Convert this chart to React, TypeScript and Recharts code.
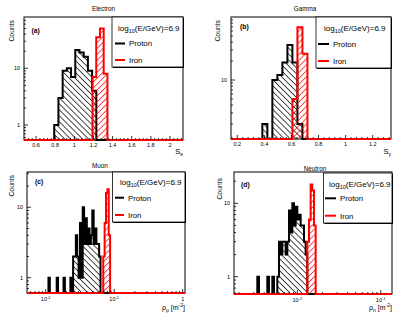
import React from "react"
import { ComposedChart, Area, XAxis, YAxis } from "recharts"

const W = 415
const H = 317
const FONT = "'Liberation Sans', Arial, Helvetica, sans-serif"
const AXW = 14 // space given to each axis inside the margins

// (a) Electron, S_e
const electronProtonStart = 0.79
const electronProtonWidth = 0.044
const electronProton = [1, 3, 9, 10, 7, 21, 19, 16, 9, 4]
const electronIronStart = 1.19
const electronIronWidth = 0.039
const electronIron = [7, 35, 50, 8]
const electronXMajor = [0.6, 0.8, 1, 1.2, 1.4, 1.6, 1.8, 2]
const electronXLabels = ["0.6", "0.8", "1", "1.2", "1.4", "1.6", "1.8", "2"]
const electronYMajor = [1, 10]
const electronYLabels = ["1", "10"]

// (b) Gamma, S_gamma (shared binning)
const gammaStart = 0.385
const gammaWidth = 0.037
const gammaProton = [2, 0, 10, 12, 19, 36, 19, 2]
const gammaIron = [0, 0, 0, 0, 0, 0, 5, 69, 26]
const gammaXMajor = [0.2, 0.4, 0.6, 0.8, 1, 1.2]
const gammaXLabels = ["0.2", "0.4", "0.6", "0.8", "1", "1.2"]
const gammaYMajor = [10]
const gammaYLabels = ["10"]

// (c) Muon, rho_mu, bins of 0.02 in log10
const muonLogStep = 0.02
const muonProtonLogStart = -1.96
const muonProton = [1, 0, 0, 0, 0, 0, 1, 0, 0, 0, 0, 1, 0, 0, 0, 0, 1, 0, 2, 2, 4, 2, 1, 6, 1, 10, 3, 7, 3, 5, 3, 4, 9, 3, 5, 3, 3, 2]
const muonIronLogStart = -1.16
const muonIron = [2, 6, 16, 18, 4]
const muonXMajor = [0.01, 0.1, 1]
const muonXLabels = ["10^-2", "10^-1", "1"]
const muonYMajor = [1, 10]
const muonYLabels = ["1", "10"]

// (d) Neutron, rho_n
const neutronLogStep = 0.02
const neutronProtonLogStart = -2.48
const neutronProton = [1, 0, 0, 0, 0, 0, 1, 0, 0, 1, 0, 0, 1, 3, 2, 3, 3, 2, 3, 8, 4, 10, 5, 9, 6, 7, 5, 5, 3, 2]
const neutronIronLogStart = -1.88
const neutronIron = [3, 6, 18, 15, 5]
const neutronXMajor = [0.01, 0.1]
const neutronXLabels = ["10^-2", "10^-1"]
const neutronYMajor = [1, 10]
const neutronYLabels = ["1", "10"]

type Pt = { x: number; y: number }
type Frame = { left: number; top: number; right: number; bottom: number }

const linEdges = (start: number, w: number, n: number) =>
  Array.from({ length: n + 1 }, (_, i) => start + i * w)
const logEdges = (start: number, step: number, n: number) =>
  Array.from({ length: n + 1 }, (_, i) => Math.pow(10, start + i * step))

function histPoints(edges: number[], counts: number[], xDom: number[], floor: number): Pt[] {
  const pts: Pt[] = [{ x: xDom[0], y: floor }]
  counts.forEach((c, i) => pts.push({ x: edges[i], y: Math.max(c, floor) }))
  pts.push({ x: edges[counts.length], y: floor })
  pts.push({ x: xDom[1], y: floor })
  return pts
}

function linTicks(from: number, step: number, to: number) {
  const out: number[] = []
  for (let k = 0; from + k * step <= to + 1e-9; k++) out.push(Math.round((from + k * step) * 10000) / 10000)
  return out
}
function logTicks(lo: number, hi: number) {
  const out: number[] = []
  for (let e = -4; e <= 3; e++)
    for (let m = 1; m < 10; m++) {
      const v = Number((m * Math.pow(10, e)).toPrecision(6))
      if (v >= lo && v < hi * 0.999) out.push(v)
    }
  return out
}

interface Cfg {
  id: string
  frame: Frame
  xScale: "linear" | "log"
  xDomain: [number, number]
  yDomain: [number, number]
  xTicks: number[]
  xMajor: number[]
  xLabels: string[]
  yTicks: number[]
  yMajor: number[]
  yLabels: string[]
  proton: Pt[]
  iron: Pt[]
}

const aX: [number, number] = [0.474, 2.136]
const aY: [number, number] = [0.544, 80]
const bX: [number, number] = [0.1535, 1.335]
const bY: [number, number] = [1.157, 100]
const cX: [number, number] = [0.00533, 1.08]
const cY: [number, number] = [0.606, 31.7]
const dX: [number, number] = [0.00174, 0.1366]
const dY: [number, number] = [0.581, 26.7]

const panels: Cfg[] = [
  {
    id: "a",
    frame: { left: 24, top: 17, right: 183, bottom: 140 },
    xScale: "linear",
    xDomain: aX,
    yDomain: aY,
    xTicks: linTicks(0.52, 0.04, 2.12),
    xMajor: electronXMajor,
    xLabels: electronXLabels,
    yTicks: logTicks(aY[0], aY[1]),
    yMajor: electronYMajor,
    yLabels: electronYLabels,
    proton: histPoints(linEdges(electronProtonStart, electronProtonWidth, electronProton.length), electronProton, aX, aY[0]),
    iron: histPoints(linEdges(electronIronStart, electronIronWidth, electronIron.length), electronIron, aX, aY[0]),
  },
  {
    id: "b",
    frame: { left: 231, top: 17, right: 391, bottom: 139 },
    xScale: "linear",
    xDomain: bX,
    yDomain: bY,
    xTicks: linTicks(0.16, 0.04, 1.32),
    xMajor: gammaXMajor,
    xLabels: gammaXLabels,
    yTicks: logTicks(bY[0], bY[1]),
    yMajor: gammaYMajor,
    yLabels: gammaYLabels,
    proton: histPoints(linEdges(gammaStart, gammaWidth, gammaProton.length), gammaProton, bX, bY[0]),
    iron: histPoints(linEdges(gammaStart, gammaWidth, gammaIron.length), gammaIron, bX, bY[0]),
  },
  {
    id: "c",
    frame: { left: 27, top: 172, right: 185, bottom: 293 },
    xScale: "log",
    xDomain: cX,
    yDomain: cY,
    xTicks: logTicks(cX[0], cX[1] * 1.01),
    xMajor: muonXMajor,
    xLabels: muonXLabels,
    yTicks: logTicks(cY[0], cY[1]),
    yMajor: muonYMajor,
    yLabels: muonYLabels,
    proton: histPoints(logEdges(muonProtonLogStart, muonLogStep, muonProton.length), muonProton, cX, cY[0]),
    iron: histPoints(logEdges(muonIronLogStart, muonLogStep, muonIron.length), muonIron, cX, cY[0]),
  },
  {
    id: "d",
    frame: { left: 234, top: 172, right: 392, bottom: 294 },
    xScale: "log",
    xDomain: dX,
    yDomain: dY,
    xTicks: logTicks(dX[0], dX[1]),
    xMajor: neutronXMajor,
    xLabels: neutronXLabels,
    yTicks: logTicks(dY[0], dY[1]),
    yMajor: neutronYMajor,
    yLabels: neutronYLabels,
    proton: histPoints(logEdges(neutronProtonLogStart, neutronLogStep, neutronProton.length), neutronProton, dX, dY[0]),
    iron: histPoints(logEdges(neutronIronLogStart, neutronLogStep, neutronIron.length), neutronIron, dX, dY[0]),
  },
]

const majorIndex = (v: number, majors: number[]) =>
  majors.findIndex((m) => Math.abs(m - v) <= 1e-6 * Math.abs(m))

function XTick(props: any) {
  const { x, y, payload, cfg } = props
  const k = majorIndex(payload.value, cfg.xMajor)
  const len = k >= 0 ? 4 : 2
  const parts = k >= 0 ? cfg.xLabels[k].split("^") : []
  return (
    <g>
      <line x1={x} x2={x} y1={y} y2={y - len} stroke="#000" strokeWidth={0.8} />
      {k >= 0 && (
        <text x={x} y={y + (cfg.xScale === "log" ? 8 : 6.5)} textAnchor="middle" fontSize={5.5} fontFamily={FONT} fill="#000">
          {parts[0]}
          {parts[1] && (
            <tspan dy={-2.5} fontSize={4}>
              {parts[1]}
            </tspan>
          )}
        </text>
      )}
    </g>
  )
}

function YTick(props: any) {
  const { x, y, payload, cfg } = props
  const k = majorIndex(payload.value, cfg.yMajor)
  const len = k >= 0 ? 4 : 2
  return (
    <g>
      <line x1={x} x2={x + len} y1={y} y2={y} stroke="#000" strokeWidth={0.8} />
      {k >= 0 && (
        <text x={x - 4} y={y + 2} textAnchor="end" fontSize={5.5} fontFamily={FONT} fill="#000">
          {cfg.yLabels[k]}
        </text>
      )}
    </g>
  )
}

function Panel({ cfg }: { cfg: Cfg }) {
  const f = cfg.frame
  return (
    <div style={{ position: "absolute", left: 0, top: 0 }}>
      <ComposedChart
        width={W}
        height={H}
        margin={{ left: f.left - AXW, top: f.top, right: W - f.right, bottom: H - f.bottom - AXW }}
      >
        <XAxis
          type="number"
          dataKey="x"
          scale={cfg.xScale}
          domain={cfg.xDomain}
          ticks={cfg.xTicks}
          interval={0}
          height={AXW}
          tickSize={0}
          tickMargin={0}
          tickLine={false}
          axisLine={false}
          tick={(p: any) => <XTick {...p} cfg={cfg} />}
        />
        <YAxis
          type="number"
          scale="log"
          domain={cfg.yDomain}
          ticks={cfg.yTicks}
          interval={0}
          width={AXW}
          tickSize={0}
          tickMargin={0}
          tickLine={false}
          axisLine={false}
          tick={(p: any) => <YTick {...p} cfg={cfg} />}
        />
        <Area
          data={cfg.proton}
          dataKey="y"
          type="stepAfter"
          baseValue={cfg.yDomain[0]}
          stroke="#000"
          strokeWidth={2}
          fill="url(#hatchProton)"
          fillOpacity={1}
          dot={false}
          activeDot={false}
          isAnimationActive={false}
        />
        <Area
          data={cfg.iron}
          dataKey="y"
          type="stepAfter"
          baseValue={cfg.yDomain[0]}
          stroke="#ff0000"
          strokeWidth={2}
          fill="url(#hatchIron)"
          fillOpacity={1}
          dot={false}
          activeDot={false}
          isAnimationActive={false}
        />
      </ComposedChart>
    </div>
  )
}

interface LegendProps {
  x: number
  y: number
  w: number
  h: number
  textX: number
  lineX: number
  lineLen: number
  rows: [number, number, number]
}

function LegendBox({ x, y, w, h, textX, lineX, lineLen, rows }: LegendProps) {
  return (
    <g fontFamily={FONT} fill="#000">
      <rect x={x + 1} y={y + 1} width={w} height={h} fill="#000" />
      <rect x={x} y={y} width={w} height={h} fill="#fff" stroke="#000" strokeWidth={0.8} />
      <text x={textX} y={rows[0] + 2.8} fontSize={8}>
        log<tspan dy={2} fontSize={5.5}>10</tspan>
        <tspan dy={-2}>(E/GeV)=6.9</tspan>
      </text>
      <line x1={lineX} x2={lineX + lineLen} y1={rows[1]} y2={rows[1]} stroke="#000" strokeWidth={2} />
      <text x={lineX + lineLen + 4} y={rows[1] + 2.8} fontSize={7.8}>
        Proton
      </text>
      <line x1={lineX} x2={lineX + lineLen} y1={rows[2]} y2={rows[2]} stroke="#ff0000" strokeWidth={2} />
      <text x={lineX + lineLen + 4} y={rows[2] + 2.8} fontSize={7.8}>
        Iron
      </text>
    </g>
  )
}

function Counts({ x, y }: { x: number; y: number }) {
  return (
    <text x={x} y={y} transform={`rotate(-90 ${x} ${y})`} textAnchor="end" fontSize={6.8} fontFamily={FONT} fill="#000">
      Counts
    </text>
  )
}

function Title({ x, y, text }: { x: number; y: number; text: string }) {
  return (
    <text x={x} y={y} textAnchor="middle" fontSize={6.3} fontFamily={FONT} fill="#000">
      {text}
    </text>
  )
}

function Tag({ x, y, text }: { x: number; y: number; text: string }) {
  return (
    <text x={x} y={y} fontSize={6.8} fontWeight="bold" fontFamily={FONT} fill="#000">
      {text}
    </text>
  )
}

export default function App() {
  return (
    <div style={{ position: "absolute", left: 0, top: 0, width: W, height: H, background: "#fff", overflow: "hidden" }}>
      <svg width={W} height={H} style={{ position: "absolute", left: 0, top: 0 }}>
        <defs>
          <pattern id="hatchProton" width={4.2} height={4.2} patternUnits="userSpaceOnUse" patternTransform="rotate(-45)">
            <line x1={2.1} y1={0} x2={2.1} y2={4.2} stroke="#000" strokeWidth={0.7} />
          </pattern>
          <pattern id="hatchIron" width={4.2} height={4.2} patternUnits="userSpaceOnUse" patternTransform="rotate(45)">
            <line x1={2.1} y1={0} x2={2.1} y2={4.2} stroke="#ff0000" strokeWidth={0.7} />
          </pattern>
        </defs>
        {panels.map((p) => (
          <rect
            key={p.id}
            x={p.frame.left}
            y={p.frame.top}
            width={p.frame.right - p.frame.left}
            height={p.frame.bottom - p.frame.top}
            fill="none"
            stroke="#000"
            strokeWidth={1}
          />
        ))}
      </svg>
      {panels.map((p) => (
        <Panel key={p.id} cfg={p} />
      ))}
      <svg width={W} height={H} style={{ position: "absolute", left: 0, top: 0 }}>
        <Title x={103.5} y={11.2} text="Electron" />
        <Title x={305} y={11.2} text="Gamma" />
        <Title x={100} y={168} text="Muon" />
        <Title x={315} y={171} text="Neutron" />
        <Counts x={14} y={20} />
        <Counts x={219.5} y={20} />
        <Counts x={13.5} y={175} />
        <Counts x={221.5} y={178} />
        <Tag x={31.5} y={32.5} text="(a)" />
        <Tag x={240} y={29} text="(b)" />
        <Tag x={35} y={184} text="(c)" />
        <Tag x={241} y={186.5} text="(d)" />
        <LegendBox x={112} y={17} w={71} h={50} textX={118} lineX={115} lineLen={10} rows={[28.5, 43.5, 60]} />
        <LegendBox x={316} y={17} w={75} h={51} textX={324} lineX={318} lineLen={11} rows={[28.5, 44, 61]} />
        <LegendBox x={112.5} y={172} w={72.5} h={50} textX={120} lineX={115} lineLen={9} rows={[182, 197.7, 215]} />
        <LegendBox x={323.5} y={173} w={68.5} h={50} textX={329} lineX={325} lineLen={11} rows={[184.5, 198.3, 215.7]} />
        <g fontFamily={FONT} fill="#000">
          <text x={183} y={154} textAnchor="end" fontSize={7.5}>
            S<tspan dy={2} fontSize={5}>e</tspan>
          </text>
          <text x={391} y={154} textAnchor="end" fontSize={7.5}>
            S<tspan dy={2} fontSize={5}>γ</tspan>
          </text>
          <text x={185} y={310} textAnchor="end" fontSize={7}>
            ρ<tspan dy={2} fontSize={5}>μ</tspan>
            <tspan dy={-2}> [m</tspan>
            <tspan dy={-3} fontSize={5}>-2</tspan>
            <tspan dy={3}>]</tspan>
          </text>
          <text x={392} y={310} textAnchor="end" fontSize={7}>
            ρ<tspan dy={2} fontSize={5}>n</tspan>
            <tspan dy={-2}> [m</tspan>
            <tspan dy={-3} fontSize={5}>-2</tspan>
            <tspan dy={3}>]</tspan>
          </text>
        </g>
      </svg>
    </div>
  )
}
